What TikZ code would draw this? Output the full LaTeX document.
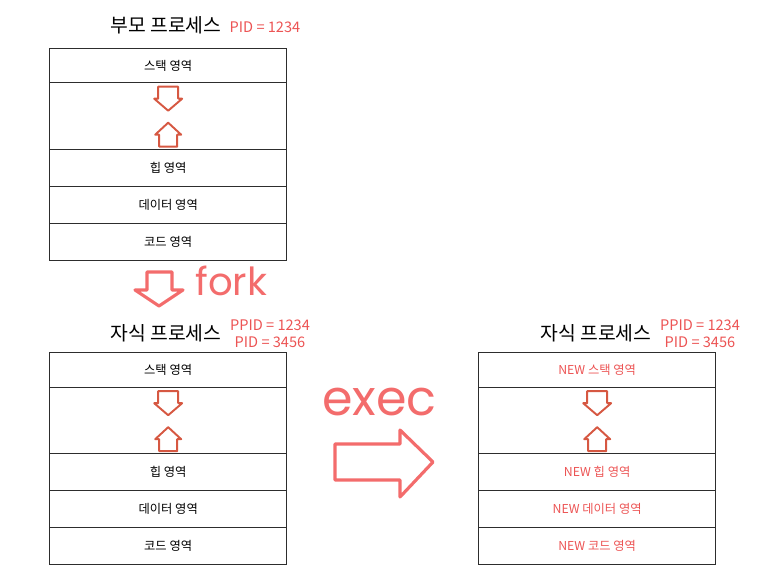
\documentclass[tikz,border=0pt]{standalone}
\usepackage{fontspec}
\setmainfont{Noto Sans CJK KR}
\newfontfamily\handfont{Poppins}
\usepackage{tikz}
\usetikzlibrary{positioning}
\usepackage{xcolor}
\definecolor{boxline}{RGB}{45,45,45}
\definecolor{pidred}{RGB}{236,84,84}
\definecolor{arrowred}{RGB}{214,88,66}
\definecolor{bigred}{RGB}{243,108,108}

\begin{document}
\begin{tikzpicture}[x=0.02cm,y=-0.02cm,
    cell/.style={draw=boxline, line width=0.8pt, anchor=north west, inner sep=0pt,
      minimum width=4.74cm, font=\fontsize{7}{8.5}\selectfont},
    newcell/.style={cell, text=pidred},
    title/.style={font=\fontsize{11}{13}\selectfont},
    pid/.style={text=pidred, font=\fontsize{8.3}{9.5}\selectfont, align=center},
    smallarrow/.style={draw=arrowred, line width=1.1pt, line join=round},
    bigarrow/.style={draw=bigred, line width=1.8pt, line join=round},
    word/.style={text=bigred, anchor=base west, inner sep=0pt}]
    \useasboundingbox (0,0) rectangle (767,582);%
    % parent process
    \node[title] (ptitle) at (166,25) {부모 프로세스};%
    \node[pid] (ppid) at (265,27) {PID = 1234};%
    \node[cell, minimum height=0.68cm] (pstack) at (49,48) {스택 영역};%
    \node[cell, minimum height=1.34cm] (pfree) at (49,82) {};%
    \node[cell, minimum height=0.74cm] (pheap) at (49,149) {힙 영역};%
    \node[cell, minimum height=0.74cm] (pdata) at (49,186) {데이터 영역};%
    \node[cell, minimum height=0.74cm] (pcode) at (49,223) {코드 영역};%
    \draw[smallarrow, shift={(pfree.center)}] (-10,-29.5) -- (10,-29.5) -- (10,-17.5) -- (14,-17.5) -- (0,-5.5) -- (-14,-17.5) -- (-10,-17.5) -- cycle;%
    \draw[smallarrow, shift={(pfree.center)}] (0,6.5) -- (13,18.5) -- (9,18.5) -- (9,30.5) -- (-9,30.5) -- (-9,18.5) -- (-13,18.5) -- cycle;%
    % fork
    \draw[bigarrow] (147,272) -- (172,272) -- (172,290) -- (183,290) -- (159,306) -- (135,290) -- (147,290) -- cycle;%
    \node[word, font=\handfont\fontsize{22}{24}\selectfont] (fork) at (195,295) {fork};%
    % child process after fork
    \node[title] (ctitle) at (166,333) {자식 프로세스};%
    \node[pid] (cpid) at (270,334) {PPID = 1234\\PID = 3456};%
    \node[cell, minimum height=0.70cm] (cstack) at (49,352) {스택 영역};%
    \node[cell, minimum height=1.32cm] (cfree) at (49,387) {};%
    \node[cell, minimum height=0.74cm] (cheap) at (49,453) {힙 영역};%
    \node[cell, minimum height=0.74cm] (cdata) at (49,490) {데이터 영역};%
    \node[cell, minimum height=0.74cm] (ccode) at (49,527) {코드 영역};%
    \draw[smallarrow, shift={(cfree.center)}] (-10,-29.5) -- (10,-29.5) -- (10,-17.5) -- (14,-17.5) -- (0,-5.5) -- (-14,-17.5) -- (-10,-17.5) -- cycle;%
    \draw[smallarrow, shift={(cfree.center)}] (0,6.5) -- (13,18.5) -- (9,18.5) -- (9,30.5) -- (-9,30.5) -- (-9,18.5) -- (-13,18.5) -- cycle;%
    % exec
    \node[word, font=\handfont\fontsize{28}{30}\selectfont] (exec) at (322,415) {exec};%
    \draw[bigarrow] (335,444) -- (400,444) -- (400,430) -- (433,462) -- (400,497) -- (400,480) -- (335,480) -- cycle;%
    % child process after exec
    \node[title] (etitle) at (596,333) {자식 프로세스};%
    \node[pid] (epid) at (700,334) {PPID = 1234\\PID = 3456};%
    \node[newcell, minimum height=0.70cm] (estack) at (478,352) {NEW 스택 영역};%
    \node[newcell, minimum height=1.32cm] (efree) at (478,387) {};%
    \node[newcell, minimum height=0.74cm] (eheap) at (478,453) {NEW 힙 영역};%
    \node[newcell, minimum height=0.74cm] (edata) at (478,490) {NEW 데이터 영역};%
    \node[newcell, minimum height=0.74cm] (ecode) at (478,527) {NEW 코드 영역};%
    \draw[smallarrow, shift={(efree.center)}] (-10,-29.5) -- (10,-29.5) -- (10,-17.5) -- (14,-17.5) -- (0,-5.5) -- (-14,-17.5) -- (-10,-17.5) -- cycle;%
    \draw[smallarrow, shift={(efree.center)}] (0,6.5) -- (13,18.5) -- (9,18.5) -- (9,30.5) -- (-9,30.5) -- (-9,18.5) -- (-13,18.5) -- cycle;%
\end{tikzpicture}
\end{document}
